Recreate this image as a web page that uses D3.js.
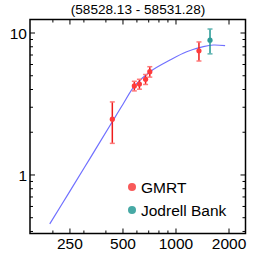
<!DOCTYPE html>
<html>
<head>
<meta charset="utf-8">
<script src="https://cdn.jsdelivr.net/npm/d3@7"></script>
<style>
  body { margin: 0; background: #fff; }
  text { font-family: "Liberation Sans", Arial, sans-serif; fill: #000; }
</style>
</head>
<body>
<div id="chart"></div>
<script>
// GMRT points (MHz, mJy)
const gmrtFreq = [435, 580, 620, 672, 710, 1350];
const gmrtFlux = [2.47, 4.24, 4.37, 4.72, 5.34, 7.5];
const gmrtErr  = [0.8, 0.33, 0.35, 0.38, 0.45, 1.15];

// Jodrell Bank point
const jbFreq = [1560];
const jbFlux = [8.9];
const jbErr  = [1.77];

// fitted model curve
const curveFreq = [192, 250, 325, 422, 500, 585, 712, 924, 1150, 1430, 1630, 1900];
const curveFlux = [0.452, 0.77, 1.31, 2.23, 3.15, 4.27, 5.34, 6.45, 7.38, 8.01, 8.23, 8.14];

const xTickVals = [250, 500, 1000, 2000];
const xMinorVals = [200, 300, 400, 600, 700, 800, 900];
const yTickVals = [1, 10];
const yMinorVals = [0.4, 0.5, 0.6, 0.7, 0.8, 0.9, 2, 3, 4, 5, 6, 7, 8, 9];

const title = "(58528.13 - 58531.28)";
const legendNames = ["GMRT", "Jodrell Bank"];

const width = 266, height = 256;
const margin = {left: 30, right: 20.5, top: 19.5, bottom: 22.5};

const svg = d3.select("#chart").append("svg")
    .attr("width", width)
    .attr("height", height);

const x = d3.scaleLog()
    .domain([148.3, 2481])
    .range([margin.left, width - margin.right]);

const y = d3.scaleLog()
    .domain([0.387, 12.45])
    .range([height - margin.bottom, margin.top]);

const x0 = x.range()[0], x1 = x.range()[1];
const y0 = y.range()[0], y1 = y.range()[1];

// titulo
svg.append("text")
    .attr("x", 138)
    .attr("y", 14)
    .attr("text-anchor", "middle")
    .style("font-size", "13.6px")
    .text(title);

// ticks (todos hacia dentro)
const tickG = svg.append("g").attr("stroke", "#000").attr("stroke-width", 1);

xTickVals.concat(xMinorVals).forEach(v => {
    const len = xTickVals.includes(v) ? 5 : 3;
    tickG.append("line").attr("x1", x(v)).attr("x2", x(v)).attr("y1", y0).attr("y2", y0 - len);
    tickG.append("line").attr("x1", x(v)).attr("x2", x(v)).attr("y1", y1).attr("y2", y1 + len);
});

yTickVals.concat(yMinorVals).forEach(v => {
    const len = yTickVals.includes(v) ? 5 : 3;
    tickG.append("line").attr("x1", x0).attr("x2", x0 + len).attr("y1", y(v)).attr("y2", y(v));
    tickG.append("line").attr("x1", x1).attr("x2", x1 - len).attr("y1", y(v)).attr("y2", y(v));
});

// marco
svg.append("rect")
    .attr("x", x0)
    .attr("y", y1)
    .attr("width", x1 - x0)
    .attr("height", y0 - y1)
    .attr("fill", "none")
    .attr("stroke", "#000")
    .attr("stroke-width", 1.5);

// etiquetas de ejes
svg.selectAll(".xlab")
    .data(xTickVals)
    .enter().append("text")
    .attr("x", d => x(d))
    .attr("y", y0 + 15)
    .attr("text-anchor", "middle")
    .style("font-size", "15.5px")
    .text(d => d);

svg.selectAll(".ylab")
    .data(yTickVals)
    .enter().append("text")
    .attr("x", x0 - 3)
    .attr("y", d => y(d))
    .attr("dy", "0.36em")
    .attr("text-anchor", "end")
    .style("font-size", "15.5px")
    .text(d => d);

// curva del modelo
const curveData = curveFreq.map((f, i) => [f, curveFlux[i]]);
svg.append("path")
    .datum(curveData)
    .attr("fill", "none")
    .attr("stroke", "#7070ff")
    .attr("stroke-width", 1.2)
    .attr("d", d3.line()
        .x(d => x(d[0]))
        .y(d => y(d[1]))
        .curve(d3.curveCatmullRom));

// puntos con barras de error
function drawSeries(freq, flux, err, lineColor, capColor, dotColor) {
    const data = freq.map((f, i) => ({f: f, s: flux[i], e: err[i]}));
    const g = svg.append("g");
    g.selectAll(".bar")
        .data(data)
        .enter().append("line")
        .attr("x1", d => x(d.f)).attr("x2", d => x(d.f))
        .attr("y1", d => y(d.s - d.e)).attr("y2", d => y(d.s + d.e))
        .attr("stroke", lineColor)
        .attr("stroke-width", 1.5);
    [-1, 1].forEach(sgn => {
        g.selectAll(".cap")
            .data(data)
            .enter().append("line")
            .attr("x1", d => x(d.f) - 2.5).attr("x2", d => x(d.f) + 2.5)
            .attr("y1", d => y(d.s + sgn * d.e)).attr("y2", d => y(d.s + sgn * d.e))
            .attr("stroke", capColor)
            .attr("stroke-width", 1.5);
    });
    g.selectAll("circle")
        .data(data)
        .enter().append("circle")
        .attr("cx", d => x(d.f))
        .attr("cy", d => y(d.s))
        .attr("r", 2.6)
        .attr("fill", dotColor);
}

drawSeries(gmrtFreq, gmrtFlux, gmrtErr, "#ee1c1c", "#ff7a7a", "#ff3b3b");
drawSeries(jbFreq, jbFlux, jbErr, "#1f9692", "#62b6b3", "#2e9c98");

// leyenda
const legendColors = ["#f85a5a", "#47a9a5"];
legendNames.forEach((name, i) => {
    const ly = 187 + i * 23;
    svg.append("circle")
        .attr("cx", 132)
        .attr("cy", ly)
        .attr("r", 4)
        .attr("fill", legendColors[i]);
    svg.append("text")
        .attr("x", 141)
        .attr("y", ly)
        .attr("dy", "0.36em")
        .style("font-size", "15.5px")
        .text(name);
});
</script>
</body>
</html>
